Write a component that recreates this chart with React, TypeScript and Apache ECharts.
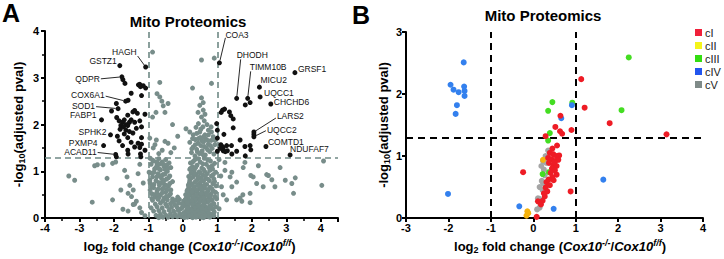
import React, { useEffect, useRef } from 'react';
import * as echarts from 'echarts';

const FONT = '"Liberation Sans", Arial, sans-serif';

// ---------------- Panel A: volcano plot ----------------
// thresholds
const fcThresholds = [-1, 1];
const pvalThreshold = 1.3;

// non-significant (gray) proteins, [log2FC, -log10(adj p)]
const grayCore: number[][] = [
  [0.62,1.28],[0.35,1.25],[0.8,1.22],[0.5,1.2],[0.22,1.18],[0.92,1.17],[0.68,1.15],[0.41,1.13],[0.28,1.1],[0.75,1.09],
  [0.55,1.07],[0.86,1.05],[0.2,1.04],[0.33,1.02],[0.63,1.0],[0.47,0.99],[0.95,0.98],[0.24,0.96],[0.71,0.95],[0.39,0.93],
  [0.58,0.92],[0.83,0.9],[0.17,0.89],[0.3,0.88],[0.52,0.86],[0.66,0.85],[0.9,0.84],[0.43,0.83],[0.2,0.81],[0.77,0.8],
  [0.6,0.79],[0.35,0.77],[0.19,0.76],[0.5,0.75],[0.87,0.74],[0.27,0.73],[0.69,0.72],[0.42,0.7],[0.96,0.69],[0.56,0.68],
  [0.17,0.67],[0.79,0.66],[0.33,0.65],[0.63,0.64],[0.48,0.62],[0.14,0.61],[0.25,0.6],[0.73,0.59],[0.88,0.58],[0.4,0.57],
  [0.57,0.56],[0.15,0.55],[0.3,0.54],[0.67,0.53],[0.82,0.52],[0.46,0.51],[0.08,0.5],[0.21,0.49],[0.61,0.48],[0.36,0.47],
  [0.93,0.46],[0.52,0.45],[0.75,0.44],[0.11,0.43],[0.28,0.42],[0.44,0.41],[0.65,0.4],[0.85,0.39],[0.18,0.38],[0.55,0.37],
  [0.02,0.36],[0.34,0.35],[0.72,0.34],[0.47,0.33],[0.24,0.32],[0.9,0.31],[0.62,0.3],[0.08,0.29],[0.39,0.28],[0.15,0.27],
  [0.78,0.26],[0.53,0.25],[0.3,0.24],[0.68,0.23],[-0.02,0.22],[0.45,0.21],[0.2,0.2],[0.87,0.19],[0.58,0.18],[0.35,0.17],
  [0.1,0.16],[0.74,0.15],[0.5,0.14],[0.26,0.13],[0.04,0.12],[0.64,0.11],[0.42,0.1],[0.16,0.09],[0.82,0.08],[0.33,0.07],
  [0.56,0.06],[0.07,0.05],[0.23,0.04],[0.7,0.04],[0.48,0.03],[0.38,0.02],[0.13,0.02],[0.6,0.01],[0.28,0.01],
  [0.45,1.27],[0.72,1.24],[0.3,1.21],[0.58,1.16],[0.85,1.12],[0.37,1.08],[0.22,1.06],[0.6,1.04],[0.78,1.02],[0.5,0.97],
  [0.34,0.95],[0.88,0.93],[0.65,0.9],[0.45,0.88],[0.25,0.86],[0.73,0.83],[0.55,0.81],[0.38,0.79],[0.92,0.78],[0.16,0.71],
  [0.62,0.7],[0.3,0.68],[0.5,0.66],[0.84,0.63],[0.72,0.61],[0.38,0.6],[0.55,0.59],[0.12,0.58],[0.26,0.56],[0.95,0.55],
  [0.7,0.5],[0.4,0.49],[0.53,0.53],[0.8,0.47],[0.31,0.45],[0.16,0.46],[0.6,0.43],[0.98,0.41],[0.07,0.4],[0.37,0.39],
  [0.5,0.4],[0.76,0.37],[0.26,0.36],[0.6,0.35],[0.13,0.33],[0.85,0.29],[0.44,0.27],[0.28,0.29],[0.58,0.27],[0.95,0.24],
  [0.02,0.26],[0.36,0.22],[0.78,0.21],[0.55,0.2],[0.13,0.21],[0.66,0.17],[0.25,0.17],[0.43,0.15],[0.91,0.13],[0.18,0.12],
  [0.58,0.12],[0.34,0.11],[0.74,0.1],[0.05,0.08],[0.48,0.08],[0.25,0.07],[0.66,0.06],[0.9,0.05],[0.4,0.05],[0.18,0.05],
  [0.54,0.02],[0.78,0.02],[0.04,0.01]
];
const grayUpper: number[][] = [
  [0.35,1.33],[0.65,1.35],[0.9,1.37],[0.48,1.38],[0.25,1.4],[0.78,1.42],[0.56,1.44],[0.4,1.47],[0.85,1.49],[0.68,1.5],
  [0.3,1.52],[0.52,1.55],[0.93,1.57],[0.74,1.58],[0.44,1.6],[0.6,1.63],[0.2,1.62],[0.82,1.66],[0.36,1.68],[0.66,1.7],
  [0.5,1.72],[0.88,1.74],[0.74,1.78],[0.4,1.81],[0.64,1.78],[0.2,1.84],[0.49,1.84],[0.83,1.84],[0.3,1.78],[0.09,1.91],
  [0.74,1.88],[0.58,1.95],[0.7,2.0],[0.45,2.02],[0.62,2.08],[0.54,2.16],[0.64,2.22],[0.44,2.26],[0.59,2.31],[0.49,2.41],
  [0.59,2.47],[0.54,2.57],[0.28,2.78],[0.83,2.88],[0.54,3.38],[0.91,3.42],
  [0.58,1.36],[0.42,1.42],[0.72,1.46],[0.26,1.48],[0.62,1.53],[0.8,1.55],[0.36,1.57],[0.55,1.65],[0.72,1.66],[0.45,1.7],
  [0.28,1.7],[0.6,1.74],[0.94,1.66],[0.52,1.9],[0.38,1.94],[0.82,1.95],
  [-0.86,1.5],[-0.81,1.57],[-0.77,1.67],[-0.96,1.71],[-0.52,1.64],[-0.43,1.6],[-0.6,1.45],[-0.35,1.4],[-0.7,1.38],
  [-0.88,2.16],[-0.78,2.26],[-0.52,2.26],[-0.43,2.45],[-0.67,2.59],[-0.61,2.5],[-0.75,2.66],[-0.67,2.9],[-0.88,3.55],
  [-0.57,2.4],[-0.25,1.5],[-0.15,1.75],[-0.3,2.0]
];
const grayLeftArm: number[][] = [
  [-0.95,1.28],[-0.7,1.27],[-0.5,1.25],[-0.85,1.22],[-0.6,1.2],[-0.4,1.18],[-0.92,1.15],[-0.75,1.13],[-0.55,1.1],[-0.35,1.08],
  [-0.82,1.05],[-0.65,1.03],[-0.45,1.0],[-0.98,0.98],[-0.72,0.95],[-0.58,0.93],[-0.38,0.9],[-0.88,0.88],[-0.62,0.85],[-0.48,0.83],
  [-0.78,0.8],[-0.3,0.78],[-0.95,0.75],[-0.55,0.73],[-0.68,0.7],[-0.42,0.68],[-0.85,0.65],[-0.6,0.62],[-0.35,0.6],[-0.75,0.58],
  [-0.5,0.55],[-0.9,0.52],[-0.65,0.5],[-0.4,0.48],[-0.8,0.45],[-0.55,0.43],[-0.3,0.41],
  [-0.88,1.24],[-0.66,1.16],[-0.46,1.14],[-0.78,1.08],[-0.52,1.04],[-0.9,0.96],[-0.66,0.9],[-0.42,0.86],[-0.84,0.72],
  [-0.62,0.76],[-0.48,0.7],[-0.72,0.62],[-0.46,0.6],[-0.95,0.6],[-0.6,0.54],[-0.82,0.5],[-0.36,0.52],[-0.7,0.44],[-0.48,0.46],
  [-0.9,0.42],[-0.76,1.2],[-0.58,1.16],[-0.7,1.06],[-0.44,1.06],[-0.84,0.98],[-0.52,0.94],[-0.76,0.88],[-0.56,0.8],[-0.7,0.76],
  [-0.38,0.74],[-0.9,0.68],[-0.56,0.64],[-0.76,0.52]
];
const grayBase: number[][] = [
  [-0.88,0.38],[-0.72,0.4],[-0.58,0.37],[-0.45,0.39],[-0.3,0.36],[-0.2,0.38],[-0.1,0.4],[-0.8,0.3],[-0.65,0.32],[-0.5,0.3],
  [-0.36,0.31],[-0.24,0.29],[-0.12,0.32],[-0.02,0.3],[-0.92,0.22],[-0.75,0.24],[-0.6,0.22],[-0.46,0.25],[-0.33,0.23],[-0.18,0.24],
  [-0.06,0.2],[-0.85,0.15],[-0.7,0.16],[-0.55,0.14],[-0.4,0.17],[-0.27,0.15],[-0.14,0.17],[-0.65,0.08],[-0.5,0.07],[-0.36,0.09],
  [-0.22,0.08],[-0.09,0.1],[-0.78,0.06],[-0.58,0.02],[-0.43,0.02],[-0.3,0.03],[-0.16,0.03],[-0.05,0.04],[-0.7,0.01],[-0.15,0.45]
];
const grayLeftTail: number[][] = [
  [-2.56,1.12],[-2.48,1.14],[-2.32,1.14],[-3.31,0.9],[-3.14,0.81],[-2.63,0.34],[-2.04,0.39],[-2.04,1.17],[-1.69,1.02],[-1.62,0.88],
  [-1.54,0.7],[-1.44,0.6],[-1.49,0.46],[-1.35,0.36],[-1.25,0.22],[-1.2,0.12],[-1.74,0.19],[-1.59,0.15],[-0.96,0.81],[-1.95,1.2],
  [-1.3,0.95],[-1.15,0.75],[-1.4,0.3],[-1.1,0.05],[-1.8,0.6],[-2.2,0.85],[-1.25,1.15],[-1.59,0.53],[-1.44,0.29]
];
const grayRightTail: number[][] = [
  [1.22,1.02],[1.37,0.88],[1.75,1.08],[2.04,0.88],[2.43,0.93],[2.58,0.82],[1.95,0.53],[1.56,0.39],[1.71,0.36],[1.42,0.67],
  [1.12,0.67],[2.97,0.81],[3.16,0.74],[2.67,0.67],[3.21,0.53],[4.08,1.22],[4.03,0.7],[3.26,0.86],[2.33,0.67],[2.14,0.74],
  [2.48,0.91],[2.19,1.12],[1.97,0.91],[1.56,0.77],[1.74,0.5],[1.66,0.43],[1.95,0.33],[1.27,0.39],[1.17,0.5],[1.42,0.98],
  [1.8,1.19],[1.22,1.19],[2.82,1.08],[1.05,0.2],[1.1,0.9],[1.05,1.25]
];

// significant (black) proteins without a label
const sigDown: number[][] = [
  [-1.74,2.96],[-1.68,2.88],[-1.29,2.85],[-1.23,2.81],[-1.15,2.83],[-1.08,2.78],[-1.25,2.86],[-1.5,2.67],[-1.2,2.62],[-1.59,2.52],
  [-1.93,2.45],[-2.07,2.29],[-1.45,2.27],[-1.32,2.24],[-1.6,2.2],[-1.1,2.22],[-1.4,2.3],[-1.92,2.15],[-1.85,2.08],[-1.75,2.05],
  [-1.7,2.1],[-1.65,2.0],[-1.8,1.98],[-1.72,1.95],[-1.6,1.98],[-1.55,2.05],[-1.5,2.1],[-1.4,2.05],[-1.25,2.08],[-1.2,1.95],
  [-1.35,1.92],[-1.82,1.9],[-1.65,1.88],[-1.55,1.85],[-1.45,1.82],[-1.7,1.8],[-1.9,1.75],[-1.6,1.72],[-1.2,1.72],[-1.85,1.65],
  [-1.5,1.62],[-1.3,1.6],[-1.2,1.58],[-1.75,1.55],[-1.4,1.52],[-1.25,1.51],[-1.6,1.45],[-1.93,1.31],[-1.59,1.37],[-1.23,1.37],
  [-1.22,1.31],[-1.1,1.45]
];
const sigUp: number[][] = [
  [1.95,2.47],[1.81,2.42],[1.15,2.31],[1.21,2.33],[1.11,2.26],[1.35,2.27],[1.39,2.19],[1.46,2.12],[1.46,1.93],[0.98,2.02],
  [1.0,1.88],[1.19,1.79],[1.0,1.71],[1.1,1.57],[1.13,1.54],[1.17,1.51],[1.27,1.55],[1.41,1.55],[1.29,1.44],[1.17,1.44],
  [1.42,1.37],[1.56,1.43],[1.66,1.67],[1.8,1.53],[1.95,1.55],[1.81,1.33],[1.97,1.46],[1.08,1.49],[1.23,1.42],[1.0,1.43],
  [2.06,1.79]
];

// labelled proteins
const labelNames = ['HAGH','GSTZ1','QDPR','COX6A1','SOD1','FABP1','SPHK2','PXMP4','ACAD11',
  'COA3','DHODH','TIMM10B','GRSF1','MICU2','UQCC1','CHCHD6','LARS2','UQCC2','COMTD1','NDUFAF7'];
const labelFC = [-1.08,-1.83,-1.77,-1.66,-1.88,-2.36,-2.1,-2.3,-1.95,
  1.06,1.56,1.88,3.25,2.22,2.24,2.55,2.06,2.06,2.41,3.11];
const labelP = [3.23,3.26,3.02,2.5,2.34,2.1,1.78,1.55,1.36,
  3.32,2.56,2.56,3.11,2.8,2.59,2.44,1.84,1.74,1.53,1.35];

// label placement (pixel offsets from the point; styling only)
type Lay = { dx: number; dy: number; align: 'left' | 'right'; line?: [number, number] };
const labelLayout: Record<string, Lay> = {
  HAGH: { dx: -9, dy: -15, align: 'right', line: [1, 4] },
  GSTZ1: { dx: -3, dy: -5, align: 'right' },
  QDPR: { dx: -22, dy: 2, align: 'right', line: [1, 0] },
  COX6A1: { dx: -21, dy: -6, align: 'right', line: [1, 1] },
  SOD1: { dx: -23, dy: -3, align: 'right', line: [1, 1] },
  FABP1: { dx: -5, dy: -5, align: 'right' },
  SPHK2: { dx: -4, dy: -3, align: 'right' },
  PXMP4: { dx: -6, dy: -3, align: 'right' },
  ACAD11: { dx: -19, dy: -2, align: 'right', line: [1, 0] },
  COA3: { dx: 6, dy: -28, align: 'left', line: [0, 3] },
  DHODH: { dx: 0, dy: -43, align: 'left', line: [4, 4] },
  TIMM10B: { dx: 2, dy: -31, align: 'left', line: [1, 4] },
  GRSF1: { dx: 3, dy: -4, align: 'left' },
  MICU2: { dx: 1, dy: -7, align: 'left' },
  UQCC1: { dx: 4, dy: -4, align: 'left' },
  CHCHD6: { dx: 3, dy: -2, align: 'left' },
  LARS2: { dx: 23, dy: -16, align: 'left', line: [-1, 2] },
  UQCC2: { dx: 13, dy: -7, align: 'left', line: [-1, 1] },
  COMTD1: { dx: 2, dy: -5, align: 'left' },
  NDUFAF7: { dx: 0, dy: -6, align: 'left' },
};

// ---------------- Panel B: OXPHOS complexes ----------------
const complexNames = ['cI', 'cII', 'cIII', 'cIV', 'cV'];
const cI: number[][] = [
  [1.13,2.24],[1.21,1.78],[1.8,1.53],[3.14,1.35],[0.9,1.42],[0.64,1.65],[0.52,1.47],[0.63,1.4],[0.68,1.36],[0.29,1.32],
  [0.56,1.17],[0.88,0.43],[-0.24,0.74],[0.08,0.02],[0.39,1.05],[0.47,1.03],[0.55,1.0],[0.61,1.01],[0.35,0.97],[0.43,0.95],
  [0.51,0.92],[0.59,0.94],[0.37,0.89],[0.47,0.85],[0.55,0.84],[0.44,0.8],[0.51,0.77],[0.41,0.73],[0.55,0.7],[0.45,0.66],
  [0.48,0.61],[0.31,0.58],[0.39,0.53],[0.29,0.49],[0.33,0.43],[0.27,0.35],[0.22,0.28],[0.11,0.27],[0.45,1.12],[0.5,0.9],
  [0.36,0.62],[0.25,0.4],[0.18,0.22]
];
const cII: number[][] = [[0.23,0.94],[-0.14,0.11],[-0.16,0.04],[-0.12,0.08]];
const cIII: number[][] = [[2.25,2.59],[2.08,1.74],[0.92,1.86],[0.45,1.87],[0.35,1.73],[0.39,1.37],[0.35,1.25],[0.22,0.71],[0.37,0.74]];
const cIV: number[][] = [
  [-1.64,2.51],[-1.95,2.15],[-1.88,2.07],[-1.76,2.03],[-1.63,2.12],[-1.62,2.05],[-1.62,1.97],[-1.8,1.82],[-1.83,1.68],[-2.01,0.39],
  [-0.33,0.19],[0.91,1.82],[0.66,1.61],[1.65,0.62],[0.48,0.15]
];
const cV: number[][] = [
  [0.35,1.09],[0.29,1.0],[0.23,0.92],[0.19,0.84],[0.31,0.89],[0.27,0.69],[0.23,0.56],[0.22,0.45],[0.31,0.43],[0.14,0.31],
  [0.17,0.26],[0.09,0.14],[0.2,0.6],[0.25,0.78],[0.15,0.5],[0.3,0.95],[0.11,0.32],[0.15,0.17]
];
const complexColors = ['#ee1c25', '#f5b20c', '#44dd22', '#3380ee', '#a5a5a5'];
const legendColors = ['#f0203a', '#f4f41a', '#33dd11', '#2255ee', '#7f8a88'];

const GRAY_A = '#788d8a';
const xName = '{b|log}{sub|2}{b| fold change (}{i|Cox10}{sup|-/-}{b|/}{i|Cox10}{sup|f/f}{b|)}';
const yName = '{b|-log}{sub|10}{b|(adjusted pval)}';
const nameRich = {
  b: { fontSize: 13, fontWeight: 'bold', fontFamily: FONT, color: '#000' },
  i: { fontSize: 13, fontWeight: 'bold', fontStyle: 'italic', fontFamily: FONT, color: '#000' },
  sub: { fontSize: 9, fontWeight: 'bold', fontFamily: FONT, color: '#000', padding: [7, 0, 0, 0] },
  sup: { fontSize: 9, fontWeight: 'bold', fontStyle: 'italic', fontFamily: FONT, color: '#000', padding: [0, 0, 7, 0] },
};

function axisCommon(fontSize: number, margin: number, minor: boolean) {
  return {
    axisLine: { show: true, onZero: false, lineStyle: { color: '#000', width: 2 } },
    axisTick: { show: true, length: 4, lineStyle: { color: '#000', width: 2 } },
    minorTick: { show: minor, splitNumber: 2, length: 3, lineStyle: { color: '#000', width: 1.5 } },
    splitLine: { show: false },
    axisLabel: {
      fontSize, fontWeight: 'bold', fontFamily: FONT, color: '#000', margin,
      formatter: (v: number) => (Number.isInteger(v) ? String(v) : ''),
    },
  };
}

function titleText(text: string, x: number, y: number, size: number) {
  return {
    type: 'text', x, y,
    style: {
      text, fontSize: size, fontWeight: 'bold', fontFamily: FONT, fill: '#000', textFill: '#000',
      align: 'center', verticalAlign: 'middle', textAlign: 'center', textVerticalAlign: 'middle',
    },
  };
}

export default function App() {
  const ref = useRef<HTMLDivElement>(null);
  useEffect(() => {
    if (!ref.current) return;
    const chart = echarts.init(ref.current, undefined, { renderer: 'svg' });
    const grayAll = [...grayCore, ...grayUpper, ...grayLeftArm, ...grayBase, ...grayLeftTail, ...grayRightTail];
    const labelled = labelNames.map((_, i) => [labelFC[i], labelP[i]]);
    const blackAll = [...sigDown, ...sigUp, ...labelled];

    const dashA = { color: '#6f8985', width: 1.6, type: [6, 4] as any };
    const dashB = { color: '#000', width: 2, type: [7, 5] as any };

    const option: any = {
      animation: false,
      backgroundColor: '#fff',
      grid: [
        { left: 45, top: 31, width: 293, height: 193 },
        { left: 406, top: 32, width: 297, height: 192 },
      ],
      xAxis: [
        {
          gridIndex: 0, type: 'value', min: -4, max: 4.5, interval: 1,
          ...axisCommon(11, 4, true),
          name: xName, nameLocation: 'middle', nameGap: 15,
          nameTextStyle: { rich: nameRich, padding: [0, 4, 0, 0] },
        },
        {
          gridIndex: 1, type: 'value', min: -3, max: 4, interval: 1,
          ...axisCommon(11, 4, false),
          name: xName, nameLocation: 'middle', nameGap: 15,
          nameTextStyle: { rich: nameRich, padding: [0, 0, 0, 11] },
        },
      ],
      yAxis: [
        {
          gridIndex: 0, type: 'value', min: 0, max: 4, interval: 1,
          ...axisCommon(11, 6, true),
          name: yName, nameLocation: 'middle', nameGap: 19,
          nameTextStyle: { rich: nameRich },
        },
        {
          gridIndex: 1, type: 'value', min: 0, max: 3, interval: 1,
          ...axisCommon(11, 4, false),
          name: yName, nameLocation: 'middle', nameGap: 14,
          nameTextStyle: { rich: nameRich },
        },
      ],
      legend: {
        data: complexNames.map((n, i) => ({ name: n, itemStyle: { color: legendColors[i] } })),
        orient: 'vertical', left: 695, top: 27, padding: 0,
        itemWidth: 7, itemHeight: 7, itemGap: 2, icon: 'rect',
        textStyle: { fontSize: 11, fontFamily: FONT, color: '#222', lineHeight: 8, padding: [0, 0, 0, -2] },
        selectedMode: false,
      },
      graphic: [
        titleText('A', 11, 13, 25),
        titleText('B', 361, 15, 25),
        titleText('Mito Proteomics', 188, 21, 15),
        titleText('Mito Proteomics', 543, 15, 15),
      ],
      series: [
        {
          name: 'thresholdsA', type: 'scatter', xAxisIndex: 0, yAxisIndex: 0, data: [], z: 1, silent: true,
          markLine: {
            silent: true, symbol: 'none', label: { show: false }, lineStyle: dashA, z: 1,
            data: [...fcThresholds.map((v) => ({ xAxis: v })), { yAxis: pvalThreshold }],
          },
        },
        {
          name: 'ns', type: 'scatter', xAxisIndex: 0, yAxisIndex: 0, data: grayAll,
          symbolSize: 5, itemStyle: { color: GRAY_A, opacity: 1 }, z: 3, silent: true,
        },
        {
          name: 'sig', type: 'scatter', xAxisIndex: 0, yAxisIndex: 0, data: blackAll,
          symbolSize: 5, itemStyle: { color: '#111', opacity: 1 }, z: 4, silent: true,
        },
        {
          name: 'labels', type: 'custom', xAxisIndex: 0, yAxisIndex: 0, data: labelled, z: 5, silent: true, clip: false,
          itemStyle: { color: '#111' },
          renderItem: (params: any, api: any) => {
            const name = labelNames[params.dataIndex];
            const lay = labelLayout[name];
            const p = api.coord([api.value(0), api.value(1)]);
            const tx = p[0] + lay.dx;
            const ty = p[1] + lay.dy;
            const children: any[] = [{
              type: 'text', x: tx, y: ty,
              style: {
                text: name, fontSize: 8.5, fontFamily: FONT, fill: '#111', textFill: '#111',
                align: lay.align, verticalAlign: 'middle', textAlign: lay.align, textVerticalAlign: 'middle',
              },
            }];
            if (lay.line) {
              const sx = tx + lay.line[0];
              const sy = ty + lay.line[1];
              const ddx = p[0] - sx;
              const ddy = p[1] - sy;
              const len = Math.hypot(ddx, ddy) || 1;
              children.push({
                type: 'line',
                shape: { x1: sx, y1: sy, x2: p[0] - (ddx / len) * 2.5, y2: p[1] - (ddy / len) * 2.5 },
                style: { stroke: '#111', lineWidth: 0.9 },
              });
            }
            return { type: 'group', children };
          },
        },
        {
          name: 'thresholdsB', type: 'scatter', xAxisIndex: 1, yAxisIndex: 1, data: [], z: 1, silent: true,
          markLine: {
            silent: true, symbol: 'none', label: { show: false }, lineStyle: dashB, z: 1,
            data: [...fcThresholds.map((v) => ({ xAxis: v })), { yAxis: pvalThreshold }],
          },
        },
        ...[4, 1, 2, 3, 0].map((ci) => ({
          name: complexNames[ci], type: 'scatter', xAxisIndex: 1, yAxisIndex: 1,
          data: [cI, cII, cIII, cIV, cV][ci],
          symbolSize: 6, itemStyle: { color: complexColors[ci], opacity: 1 }, z: 3, silent: true,
        })),
      ],
    };
    chart.setOption(option);
    return () => chart.dispose();
  }, []);
  return <div ref={ref} style={{ position: 'fixed', left: 0, top: 0, width: 724, height: 259 }} />;
}
